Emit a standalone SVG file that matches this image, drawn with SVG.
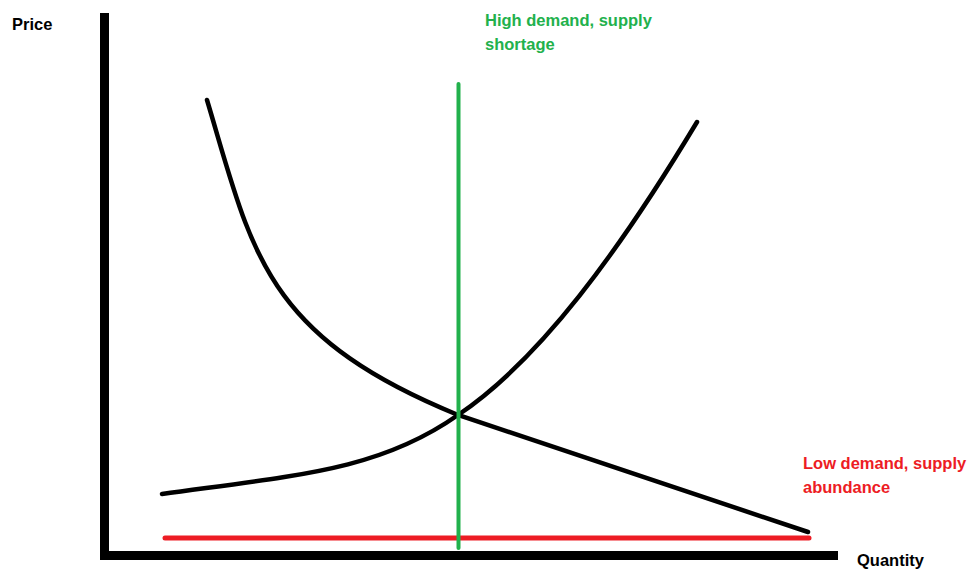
<svg xmlns="http://www.w3.org/2000/svg" width="971" height="569" viewBox="0 0 971 569">
<style>
.t{font-family:"Liberation Sans",Arial,sans-serif;font-weight:bold;font-size:16.5px}
.curve{fill:none;stroke:#000;stroke-width:4.5;stroke-linecap:round}
</style>
<rect width="971" height="569" fill="#fff"/>
<g id="axes">
<rect x="100" y="13" width="9" height="547" fill="#000"/>
<rect x="100" y="551" width="738" height="9" fill="#000"/>
</g>
<g id="labels">
<text class="t" x="12" y="30">Price</text>
<text class="t" x="857" y="566">Quantity</text>
<text class="t" x="485" y="26" fill="#22B14C">High demand, supply</text>
<text class="t" x="485" y="50" fill="#22B14C">shortage</text>
<text class="t" x="803" y="469" fill="#ED1C24">Low demand, supply</text>
<text class="t" x="803" y="493" fill="#ED1C24">abundance</text>
</g>
<g id="connectors">
<path id="demand" class="curve" d="M207,100 C252,250 262,335 458,415 L808,532"/>
<path id="supply" class="curve" d="M162,494 C300,475 380,470 458,415 C540,360 620,250 697,122"/>
<line id="low" x1="165" y1="538" x2="809" y2="538" stroke="#ED1C24" stroke-width="5" stroke-linecap="round"/>
<line id="high" x1="458.5" y1="84" x2="458.5" y2="548" stroke="#22B14C" stroke-width="4" stroke-linecap="round"/>
</g>
</svg>
